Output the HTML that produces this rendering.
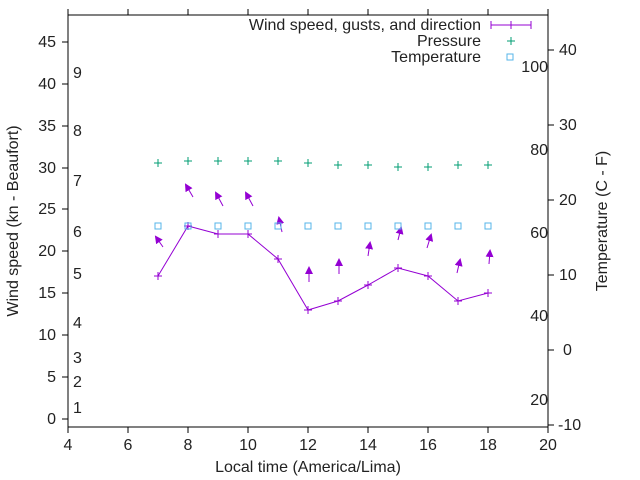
<!DOCTYPE html>
<html><head><meta charset="utf-8"><style>body{margin:0;background:#fff}svg{display:block}svg text{font-family:"Liberation Sans",sans-serif;font-size:16px;fill:#222}</style></head><body>
<svg width="640" height="480" viewBox="0 0 640 480" font-family="Liberation Sans, sans-serif" font-size="16">
<defs><marker id="ah" markerWidth="8" markerHeight="8" refX="6" refY="4" orient="auto" markerUnits="userSpaceOnUse"><path d="M0,0 L8,4 L0,8 z" fill="#9400d3"/></marker></defs>
<rect x="68" y="15" width="480" height="412" fill="none" stroke="#000" stroke-width="1"/>
<g stroke="#000">
<line x1="68" y1="427" x2="68" y2="433"/><line x1="128" y1="427" x2="128" y2="433"/><line x1="188" y1="427" x2="188" y2="433"/><line x1="248" y1="427" x2="248" y2="433"/><line x1="308" y1="427" x2="308" y2="433"/><line x1="368" y1="427" x2="368" y2="433"/><line x1="428" y1="427" x2="428" y2="433"/><line x1="488" y1="427" x2="488" y2="433"/><line x1="548" y1="427" x2="548" y2="433"/>
<line x1="68" y1="15" x2="68" y2="9"/><line x1="128" y1="15" x2="128" y2="9"/><line x1="188" y1="15" x2="188" y2="9"/><line x1="248" y1="15" x2="248" y2="9"/><line x1="308" y1="15" x2="308" y2="9"/><line x1="368" y1="15" x2="368" y2="9"/><line x1="428" y1="15" x2="428" y2="9"/><line x1="488" y1="15" x2="488" y2="9"/><line x1="548" y1="15" x2="548" y2="9"/>
<line x1="62" y1="419" x2="68" y2="419"/><line x1="62" y1="377" x2="68" y2="377"/><line x1="62" y1="335" x2="68" y2="335"/><line x1="62" y1="293" x2="68" y2="293"/><line x1="62" y1="251" x2="68" y2="251"/><line x1="62" y1="209" x2="68" y2="209"/><line x1="62" y1="168" x2="68" y2="168"/><line x1="62" y1="126" x2="68" y2="126"/><line x1="62" y1="84" x2="68" y2="84"/><line x1="62" y1="42" x2="68" y2="42"/>
<line x1="548" y1="425" x2="554" y2="425"/><line x1="548" y1="350" x2="554" y2="350"/><line x1="548" y1="275" x2="554" y2="275"/><line x1="548" y1="200" x2="554" y2="200"/><line x1="548" y1="125" x2="554" y2="125"/><line x1="548" y1="50" x2="554" y2="50"/>
</g>
<g text-anchor="middle"><text x="68" y="450">4</text><text x="128" y="450">6</text><text x="188" y="450">8</text><text x="248" y="450">10</text><text x="308" y="450">12</text><text x="368" y="450">14</text><text x="428" y="450">16</text><text x="488" y="450">18</text><text x="548" y="450">20</text></g>
<g text-anchor="end"><text x="56" y="424">0</text><text x="56" y="382">5</text><text x="56" y="340">10</text><text x="56" y="298">15</text><text x="56" y="256">20</text><text x="56" y="214">25</text><text x="56" y="173">30</text><text x="56" y="131">35</text><text x="56" y="89">40</text><text x="56" y="47">45</text></g>
<g><text x="558" y="430">-10</text><text x="563" y="355">0</text><text x="559" y="280">10</text><text x="559" y="205">20</text><text x="559" y="130">30</text><text x="559" y="55">40</text></g>
<g><text x="73" y="413">1</text><text x="73" y="387">2</text><text x="73" y="363">3</text><text x="73" y="328">4</text><text x="73" y="279">5</text><text x="73" y="237">6</text><text x="73" y="186">7</text><text x="73" y="136">8</text><text x="73" y="78">9</text></g>
<g text-anchor="end"><text x="548" y="405">20</text><text x="548" y="321">40</text><text x="548" y="238">60</text><text x="548" y="155">80</text><text x="548" y="72">100</text></g>
<text x="308" y="472" text-anchor="middle">Local time (America/Lima)</text>
<text transform="translate(18,221) rotate(-90)" text-anchor="middle">Wind speed (kn - Beaufort)</text>
<text transform="translate(607,221) rotate(-90)" text-anchor="middle">Temperature (C - F)</text>
<g text-anchor="end"><text x="481" y="30">Wind speed, gusts, and direction</text><text x="481" y="46">Pressure</text><text x="481" y="62">Temperature</text></g>
<g stroke="#9400d3" fill="none">
<line x1="491" y1="25" x2="531" y2="25"/><line x1="491" y1="21" x2="491" y2="29"/><line x1="531" y1="21" x2="531" y2="29"/><line x1="511" y1="21" x2="511" y2="29"/>
<polyline points="158,276 188,226 218,234 248,234 278,259 308,310 338,301 368,285 398,268 428,276 458,301 488,293"/>
<path d="M154,276h8M158,272v8M184,226h8M188,222v8M214,234h8M218,230v8M244,234h8M248,230v8M274,259h8M278,255v8M304,310h8M308,306v8M334,301h8M338,297v8M364,285h8M368,281v8M394,268h8M398,264v8M424,276h8M428,272v8M454,301h8M458,297v8M484,293h8M488,289v8"/>
<g marker-end="url(#ah)"><line x1="163" y1="247" x2="156" y2="237"/><line x1="193" y1="197" x2="186" y2="185"/><line x1="223" y1="206" x2="216" y2="193"/><line x1="253" y1="206" x2="246" y2="193"/><line x1="282" y1="232" x2="279" y2="218"/><line x1="309" y1="282" x2="309" y2="268"/><line x1="339" y1="274" x2="339" y2="260"/><line x1="368" y1="256" x2="370" y2="243"/><line x1="398" y1="240" x2="401" y2="228"/><line x1="427" y1="248" x2="431" y2="235"/><line x1="457" y1="273" x2="460" y2="260"/><line x1="489" y1="264" x2="490" y2="251"/></g>
</g>
<g stroke="#009e73"><path d="M507,41h8M511,37v8 M154,163h8M158,159v8M184,161h8M188,157v8M214,161h8M218,157v8M244,161h8M248,157v8M274,161h8M278,157v8M304,163h8M308,159v8M334,165h8M338,161v8M364,165h8M368,161v8M394,167h8M398,163v8M424,167h8M428,163v8M454,165h8M458,161v8M484,165h8M488,161v8"/></g>
<g stroke="#56b4e9" fill="none"><rect x="507" y="54" width="6" height="6"/><rect x="155" y="223" width="6" height="6"/><rect x="185" y="223" width="6" height="6"/><rect x="215" y="223" width="6" height="6"/><rect x="245" y="223" width="6" height="6"/><rect x="275" y="223" width="6" height="6"/><rect x="305" y="223" width="6" height="6"/><rect x="335" y="223" width="6" height="6"/><rect x="365" y="223" width="6" height="6"/><rect x="395" y="223" width="6" height="6"/><rect x="425" y="223" width="6" height="6"/><rect x="455" y="223" width="6" height="6"/><rect x="485" y="223" width="6" height="6"/></g>
</svg>
</body></html>
